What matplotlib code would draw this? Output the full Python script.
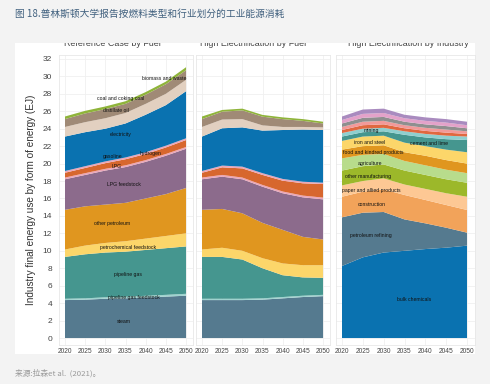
import matplotlib.pyplot as plt
from matplotlib.patches import Rectangle

plt.rcParams['font.family'] = ['Liberation Sans', 'Noto Sans CJK SC', 'DejaVu Sans']

years = [2020, 2025, 2030, 2035, 2040, 2045, 2050]

# Reference case by fuel (EJ)
ref_steam = [4.35, 4.4, 4.5, 4.55, 4.65, 4.75, 4.85]
ref_pipeline_gas_feedstock = [0.15, 0.15, 0.17, 0.18, 0.19, 0.2, 0.22]
ref_pipeline_gas = [4.8, 5.05, 5.13, 5.17, 5.26, 5.35, 5.43]
ref_petrochemical_feedstock = [0.85, 1.0, 1.1, 1.2, 1.3, 1.4, 1.5]
ref_other_petroleum = [4.55, 4.5, 4.4, 4.4, 4.6, 4.8, 5.2]
ref_lpg_feedstock = [3.5, 3.6, 3.9, 4.1, 4.2, 4.4, 4.5]
ref_lpg = [0.2, 0.2, 0.2, 0.2, 0.2, 0.2, 0.2]
ref_hydrogen = [0.55, 0.6, 0.65, 0.7, 0.7, 0.75, 0.8]
ref_gasoline = [0.2, 0.2, 0.2, 0.2, 0.2, 0.2, 0.2]
ref_electricity = [3.95, 3.9, 3.75, 3.9, 4.3, 4.65, 5.4]
ref_distillate_oil = [1.1, 1.15, 1.2, 1.2, 1.25, 1.3, 1.3]
ref_coal = [0.9, 1.0, 1.05, 1.05, 1.05, 1.1, 1.1]
ref_biomass = [0.3, 0.3, 0.3, 0.3, 0.3, 0.3, 0.35]

# High electrification by fuel (EJ)
he_steam = [4.35, 4.35, 4.35, 4.4, 4.55, 4.7, 4.8]
he_pipeline_gas_feedstock = [0.15, 0.15, 0.15, 0.15, 0.15, 0.15, 0.15]
he_pipeline_gas = [4.8, 4.8, 4.5, 3.45, 2.5, 2.1, 1.95]
he_petrochemical_feedstock = [0.85, 1.05, 1.0, 1.15, 1.35, 1.4, 1.45]
he_other_petroleum = [4.55, 4.45, 4.3, 4.05, 3.85, 3.25, 2.95]
he_lpg_feedstock = [3.5, 3.7, 3.9, 4.15, 4.2, 4.53, 4.6]
he_lpg = [0.2, 0.2, 0.2, 0.2, 0.2, 0.2, 0.2]
he_hydrogen = [0.55, 0.87, 1.05, 1.15, 1.24, 1.41, 1.56]
he_gasoline = [0.2, 0.2, 0.2, 0.2, 0.2, 0.18, 0.15]
he_electricity = [3.95, 4.28, 4.5, 4.88, 5.61, 5.98, 6.04]
he_distillate_oil = [1.1, 1.0, 0.95, 0.6, 0.35, 0.3, 0.3]
he_coal = [0.9, 0.9, 1.0, 1.0, 0.9, 0.7, 0.45]
he_biomass = [0.3, 0.2, 0.2, 0.2, 0.2, 0.2, 0.2]

# High electrification by industry (EJ)
ind_bulk_chemicals = [8.26, 9.25, 9.8, 10.0, 10.2, 10.36, 10.59]
ind_petroleum_refining = [5.58, 5.12, 4.65, 3.6, 2.95, 2.29, 1.49]
ind_construction = [2.36, 2.41, 2.6, 2.8, 2.68, 2.6, 2.6]
ind_paper = [1.3, 1.22, 1.25, 1.2, 1.27, 1.35, 1.52]
ind_other_manufacturing = [1.7, 1.7, 1.6, 1.6, 1.6, 1.6, 1.6]
ind_agriculture = [1.4, 1.3, 1.2, 1.1, 1.1, 1.1, 1.1]
ind_food = [1.0, 1.0, 1.0, 1.0, 1.1, 1.1, 1.1]
ind_iron_steel = [1.0, 1.1, 1.1, 1.1, 1.1, 1.2, 1.3]
ind_cement_lime = [0.5, 0.5, 0.5, 0.9, 1.0, 1.2, 1.4]
ind_mining = [0.4, 0.4, 0.4, 0.4, 0.4, 0.4, 0.4]
ind_aluminum = [0.35, 0.4, 0.4, 0.35, 0.35, 0.35, 0.3]
ind_glass = [0.35, 0.4, 0.4, 0.35, 0.35, 0.35, 0.3]
ind_plastics = [0.4, 0.45, 0.45, 0.4, 0.4, 0.4, 0.35]
ind_metal_durables = [0.4, 0.45, 0.45, 0.4, 0.4, 0.4, 0.35]
ind_balance = [0.4, 0.5, 0.5, 0.4, 0.4, 0.4, 0.4]

fuel_colors = ["#557a8f", "#9fd3cf", "#45968f", "#fcd66a", "#e0961f", "#8c6b8c",
               "#eba6b8", "#d7672e", "#eba6b8", "#0a72b0", "#e2d0c0", "#a08a76",
               "#8fb43a"]
ind_colors = ["#0a72b0", "#557a8f", "#f2a35a", "#fdc894", "#9cb82a", "#b8dc8c",
              "#e0961f", "#fcd66a", "#45968f", "#8fcfcf", "#e06840", "#f29a9a",
              "#8f8f8f", "#e3a2c9", "#a98bbf"]

ref_layers = [ref_steam, ref_pipeline_gas_feedstock, ref_pipeline_gas, ref_petrochemical_feedstock,
              ref_other_petroleum, ref_lpg_feedstock, ref_lpg, ref_hydrogen, ref_gasoline,
              ref_electricity, ref_distillate_oil, ref_coal, ref_biomass]
he_layers = [he_steam, he_pipeline_gas_feedstock, he_pipeline_gas, he_petrochemical_feedstock,
             he_other_petroleum, he_lpg_feedstock, he_lpg, he_hydrogen, he_gasoline,
             he_electricity, he_distillate_oil, he_coal, he_biomass]
ind_layers = [ind_bulk_chemicals, ind_petroleum_refining, ind_construction, ind_paper,
              ind_other_manufacturing, ind_agriculture, ind_food, ind_iron_steel,
              ind_cement_lime, ind_mining, ind_aluminum, ind_glass, ind_plastics,
              ind_metal_durables, ind_balance]

# in-plot labels (text, year, EJ)
ref_labels = [("biomass and waste", 2044.5, 29.8), ("coal and coking coal", 2033.8, 27.5),
              ("distillate oil", 2032.6, 26.1), ("electricity", 2033.8, 23.3),
              ("gasoline", 2031.8, 20.8), ("hydrogen", 2041.1, 21.1), ("LPG", 2032.8, 19.65),
              ("LPG feedstock", 2034.5, 17.6), ("other petroleum", 2031.6, 13.15),
              ("petrochemical feedstock", 2035.7, 10.4), ("pipeline gas", 2035.5, 7.34),
              ("pipeline gas feedstock", 2037.0, 4.67), ("steam", 2034.6, 1.87)]
ind_labels = [("mining", 2027.1, 23.74), ("iron and steel", 2026.7, 22.4),
              ("cement and lime", 2040.9, 22.32), ("food and kindred products", 2027.5, 21.25),
              ("agriculture", 2026.7, 20.03), ("other manufacturing", 2026.3, 18.5),
              ("paper and allied products", 2027.1, 16.86), ("construction", 2027.1, 15.33),
              ("petroleum refining", 2026.9, 11.8), ("bulk chemicals", 2037.3, 4.36)]

W, H = 490, 384
fig = plt.figure(figsize=(W / 100, H / 100), dpi=100, facecolor="#f3f3f3")

# white panel behind the charts
fig.patches.append(Rectangle((15 / W, 1 - 354 / H), 460 / W, (354 - 43) / H,
                             transform=fig.transFigure, facecolor="white",
                             edgecolor="none", zorder=-1))


def px_axes(left, right):
    return [left / W, 1 - 345 / H, (right - left) / W, 290 / H]


ax1 = fig.add_axes(px_axes(58.95, 193.3))
ax2 = fig.add_axes(px_axes(195.95, 330.3))
ax3 = fig.add_axes(px_axes(335.75, 474.5))

panels = [(ax1, ref_layers, fuel_colors), (ax2, he_layers, fuel_colors),
          (ax3, ind_layers, ind_colors)]

for ax, layers, colors in panels:
    ax.stackplot(years, *layers, colors=colors, linewidth=0, zorder=2)
    ax.set_xlim(2018.5, 2051.8)
    ax.set_ylim(-0.8, 32.45)
    ax.set_xticks(years)
    ax.set_yticks(range(0, 33, 2))
    ax.grid(True, color="#f0f0f0", linewidth=0.6, zorder=0)
    ax.set_axisbelow(True)
    ax.tick_params(length=0, labelsize=4.8, colors="#444444", pad=2)
    ax.tick_params(axis="y", labelsize=6, pad=5)
    for s in ax.spines.values():
        s.set_color("#e8e8e8")
        s.set_linewidth(0.6)
    ax.set_facecolor("white")

ax2.set_yticklabels([])
ax3.set_yticklabels([])

ax1.set_ylabel("Industry final energy use by form of energy (EJ)", fontsize=7.2,
               color="#333333", labelpad=5)

for text, x, y in ref_labels:
    ax1.text(x, y, text, fontsize=3.7, ha="center", va="center", color="#111111", zorder=3)
for text, x, y in ind_labels:
    ax3.text(x, y, text, fontsize=3.7, ha="center", va="center", color="#111111", zorder=3)

# panel titles (top half hidden behind the header band, as in the original)
for text, xc in [("Reference Case by Fuel", 112), ("High Electrification by Fuel", 253),
                 ("High Electrification by Industry", 408)]:
    fig.text(xc / W, 1 - 46.5 / H, text, fontsize=6.4, ha="center", va="baseline",
             color="#444444", zorder=3)
fig.patches.append(Rectangle((0, 1 - 43 / H), 1, 43 / H, transform=fig.transFigure,
                             facecolor="#f3f3f3", edgecolor="none", zorder=5))

fig.text(15 / W, 1 - 14 / H, "图 18.普林斯顿大学报告按燃料类型和行业划分的工业能源消耗",
         fontsize=7, color="#40607e", ha="left", va="center", zorder=6,
         family=['Noto Sans CJK SC', 'DejaVu Sans'])
fig.text(15 / W, 1 - 373 / H, "来源:拉森et al.  (2021)。", fontsize=5.6, color="#999999",
         ha="left", va="center", family=['Noto Sans CJK SC', 'DejaVu Sans'])

fig.savefig("out.png", dpi=100, facecolor=fig.get_facecolor())
